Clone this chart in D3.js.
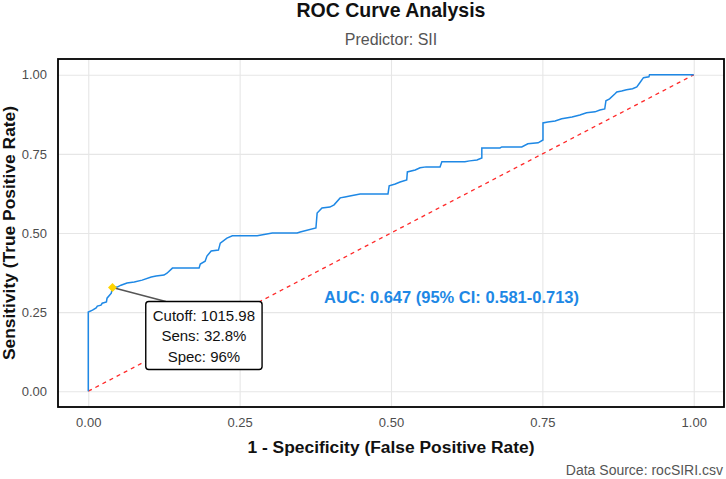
<!DOCTYPE html>
<html>
<head>
<meta charset="utf-8">
<script src="https://cdn.jsdelivr.net/npm/d3@7"></script>
<style>
  body { margin: 0; background: #fff; }
  text { font-family: "Liberation Sans", Arial, sans-serif; }
</style>
</head>
<body>
<div id="chart"></div>
<script>
// ROC curve points (1 - specificity, sensitivity)
var fpr = [0, 0, 0.007, 0.013, 0.015, 0.021, 0.023, 0.030, 0.031, 0.038, 0.040,
  0.048, 0.054, 0.064, 0.076, 0.089, 0.104, 0.112, 0.125, 0.130, 0.139,
  0.183, 0.185, 0.193, 0.196, 0.203, 0.215, 0.218, 0.229, 0.238, 0.279,
  0.304, 0.345, 0.350, 0.376, 0.378, 0.386, 0.399, 0.406, 0.416, 0.424,
  0.432, 0.449, 0.495, 0.497, 0.507, 0.515, 0.526, 0.527, 0.540, 0.548,
  0.558, 0.581, 0.584, 0.622, 0.630, 0.642, 0.650, 0.650, 0.680, 0.683,
  0.716, 0.726, 0.743, 0.751, 0.751, 0.759, 0.771, 0.782, 0.799, 0.812,
  0.823, 0.837, 0.845, 0.853, 0.855, 0.861, 0.870, 0.873, 0.881, 0.889,
  0.899, 0.906, 0.911, 0.917, 0.926, 0.927, 1];
var tpr = [0, 0.250, 0.256, 0.263, 0.269, 0.272, 0.278, 0.282, 0.294, 0.310, 0.328,
  0.329, 0.335, 0.342, 0.345, 0.351, 0.361, 0.364, 0.367, 0.373, 0.389,
  0.389, 0.402, 0.411, 0.427, 0.443, 0.446, 0.468, 0.484, 0.491, 0.491,
  0.500, 0.500, 0.503, 0.516, 0.563, 0.579, 0.582, 0.589, 0.611, 0.614,
  0.617, 0.623, 0.623, 0.649, 0.655, 0.661, 0.668, 0.693, 0.699, 0.706,
  0.709, 0.709, 0.725, 0.725, 0.728, 0.731, 0.737, 0.769, 0.769, 0.772,
  0.772, 0.782, 0.785, 0.794, 0.848, 0.851, 0.854, 0.861, 0.867, 0.873,
  0.880, 0.883, 0.889, 0.892, 0.918, 0.924, 0.940, 0.946, 0.949, 0.953,
  0.956, 0.962, 0.975, 0.991, 0.994, 1.000, 1];

// optimal cutoff point
var bestFpr = 0.04;
var bestTpr = 0.328;
var bestLabel = ["Cutoff: 1015.98", "Sens: 32.8%", "Spec: 96%"];

var tickValues = [0, 0.25, 0.5, 0.75, 1];
var aucText = "AUC: 0.647 (95% CI: 0.581-0.713)";

var svgWidth = 726;
var svgHeight = 479;

var margin = { top: 59, right: 2, bottom: 72, left: 58 };
var width = svgWidth - margin.left - margin.right;
var height = svgHeight - margin.top - margin.bottom;

var svg = d3.select("#chart")
  .append("svg")
  .attr("width", svgWidth)
  .attr("height", svgHeight);

svg.append("rect")
  .attr("width", svgWidth)
  .attr("height", svgHeight)
  .attr("fill", "#fff");

var chartGroup = svg.append("g")
  .attr("transform", `translate(${margin.left}, ${margin.top})`);

// scales with a 5% expansion like ggplot
var xScale = d3.scaleLinear().domain([-0.05, 1.05]).range([0, width]);
var yScale = d3.scaleLinear().domain([-0.05, 1.05]).range([height, 0]);

// gridlines
chartGroup.append("g")
  .attr("transform", `translate(0, ${height})`)
  .call(d3.axisBottom(xScale).tickValues(tickValues).tickSize(-height).tickFormat(""))
  .call(g => g.select(".domain").remove())
  .call(g => g.selectAll("line").attr("stroke", "#e6e6e6").attr("stroke-width", 1.1));

chartGroup.append("g")
  .call(d3.axisLeft(yScale).tickValues(tickValues).tickSize(-width).tickFormat(""))
  .call(g => g.select(".domain").remove())
  .call(g => g.selectAll("line").attr("stroke", "#e6e6e6").attr("stroke-width", 1.1));

// tick labels
var fmt = d3.format(".2f");
chartGroup.append("g")
  .attr("transform", `translate(0, ${height})`)
  .call(d3.axisBottom(xScale).tickValues(tickValues).tickSize(0).tickPadding(11).tickFormat(fmt))
  .call(g => g.select(".domain").remove())
  .call(g => g.selectAll("text")
    .attr("fill", "#4d4d4d")
    .style("font-size", "13px")
    .style("font-family", "Liberation Sans, Arial, sans-serif"));

chartGroup.append("g")
  .call(d3.axisLeft(yScale).tickValues(tickValues).tickSize(0).tickPadding(11).tickFormat(fmt))
  .call(g => g.select(".domain").remove())
  .call(g => g.selectAll("text")
    .attr("fill", "#4d4d4d")
    .style("font-size", "13px")
    .style("font-family", "Liberation Sans, Arial, sans-serif"));

// diagonal reference line
chartGroup.append("line")
  .attr("x1", xScale(0))
  .attr("y1", yScale(0))
  .attr("x2", xScale(1))
  .attr("y2", yScale(1))
  .attr("stroke", "#ff2a2a")
  .attr("stroke-width", 1.3)
  .attr("stroke-dasharray", "4,4");

// ROC curve
var rocData = fpr.map((d, i) => ({ x: d, y: tpr[i] }));
var line = d3.line()
  .x(d => xScale(d.x))
  .y(d => yScale(d.y));

chartGroup.append("path")
  .datum(rocData)
  .attr("d", line)
  .attr("fill", "none")
  .attr("stroke", "#1e88e5")
  .attr("stroke-width", 1.5);

// label box for the cutoff point
var connectorG = chartGroup.append("g");
var labelG = chartGroup.append("g");
var boxCx = xScale(0.191);
var boxCy = yScale(0.175);
var lineGap = 20.5;

labelG.selectAll("text")
  .data(bestLabel)
  .enter()
  .append("text")
  .attr("x", boxCx)
  .attr("y", (d, i) => boxCy + (i - 1) * lineGap)
  .attr("dy", "0.35em")
  .attr("text-anchor", "middle")
  .style("font-size", "15px")
  .attr("fill", "#111")
  .text(d => d);

var bb = labelG.node().getBBox();
var padX = 7, padY = 5;
var boxX = bb.x - padX, boxY = bb.y - padY;

// connector segment from the point to the box
connectorG.append("line")
  .attr("x1", xScale(bestFpr))
  .attr("y1", yScale(bestTpr))
  .attr("x2", boxX + 20)
  .attr("y2", boxY)
  .attr("stroke", "#555")
  .attr("stroke-width", 1.5);

labelG.insert("rect", "text")
  .attr("x", boxX)
  .attr("y", boxY)
  .attr("width", bb.width + 2 * padX)
  .attr("height", bb.height + 2 * padY)
  .attr("rx", 3)
  .attr("fill", "#fff")
  .attr("stroke", "#000")
  .attr("stroke-width", 1.4);

// optimal point marker (square turned 45 degrees)
chartGroup.append("path")
  .attr("d", d3.symbol().type(d3.symbolSquare).size(40))
  .attr("transform", `translate(${xScale(bestFpr)}, ${yScale(bestTpr)}) rotate(45)`)
  .attr("fill", "#ffd400");

// AUC annotation
chartGroup.append("text")
  .attr("x", xScale(0.6))
  .attr("y", yScale(0.297))
  .attr("dy", "0.35em")
  .attr("text-anchor", "middle")
  .style("font-size", "16.5px")
  .style("font-weight", "bold")
  .attr("fill", "#1e88e5")
  .text(aucText);

// panel border
chartGroup.append("rect")
  .attr("width", width)
  .attr("height", height)
  .attr("fill", "none")
  .attr("stroke", "#000")
  .attr("stroke-width", 1.8);

// titles
var centerX = margin.left + width / 2;
svg.append("text")
  .attr("x", centerX)
  .attr("y", 17)
  .attr("text-anchor", "middle")
  .style("font-size", "19.5px")
  .style("font-weight", "bold")
  .attr("fill", "#111")
  .text("ROC Curve Analysis");

svg.append("text")
  .attr("x", centerX)
  .attr("y", 45)
  .attr("text-anchor", "middle")
  .style("font-size", "16px")
  .attr("fill", "#555")
  .text("Predictor: SII");

svg.append("text")
  .attr("x", centerX)
  .attr("y", 453)
  .attr("text-anchor", "middle")
  .style("font-size", "17.4px")
  .style("font-weight", "bold")
  .attr("fill", "#111")
  .text("1 - Specificity (False Positive Rate)");

svg.append("text")
  .attr("transform", `translate(15, ${margin.top + height / 2}) rotate(-90)`)
  .attr("text-anchor", "middle")
  .style("font-size", "17.4px")
  .style("font-weight", "bold")
  .attr("fill", "#111")
  .text("Sensitivity (True Positive Rate)");

svg.append("text")
  .attr("x", svgWidth - 3)
  .attr("y", 475)
  .attr("text-anchor", "end")
  .style("font-size", "14px")
  .attr("fill", "#555")
  .text("Data Source: rocSIRI.csv");
</script>
</body>
</html>
